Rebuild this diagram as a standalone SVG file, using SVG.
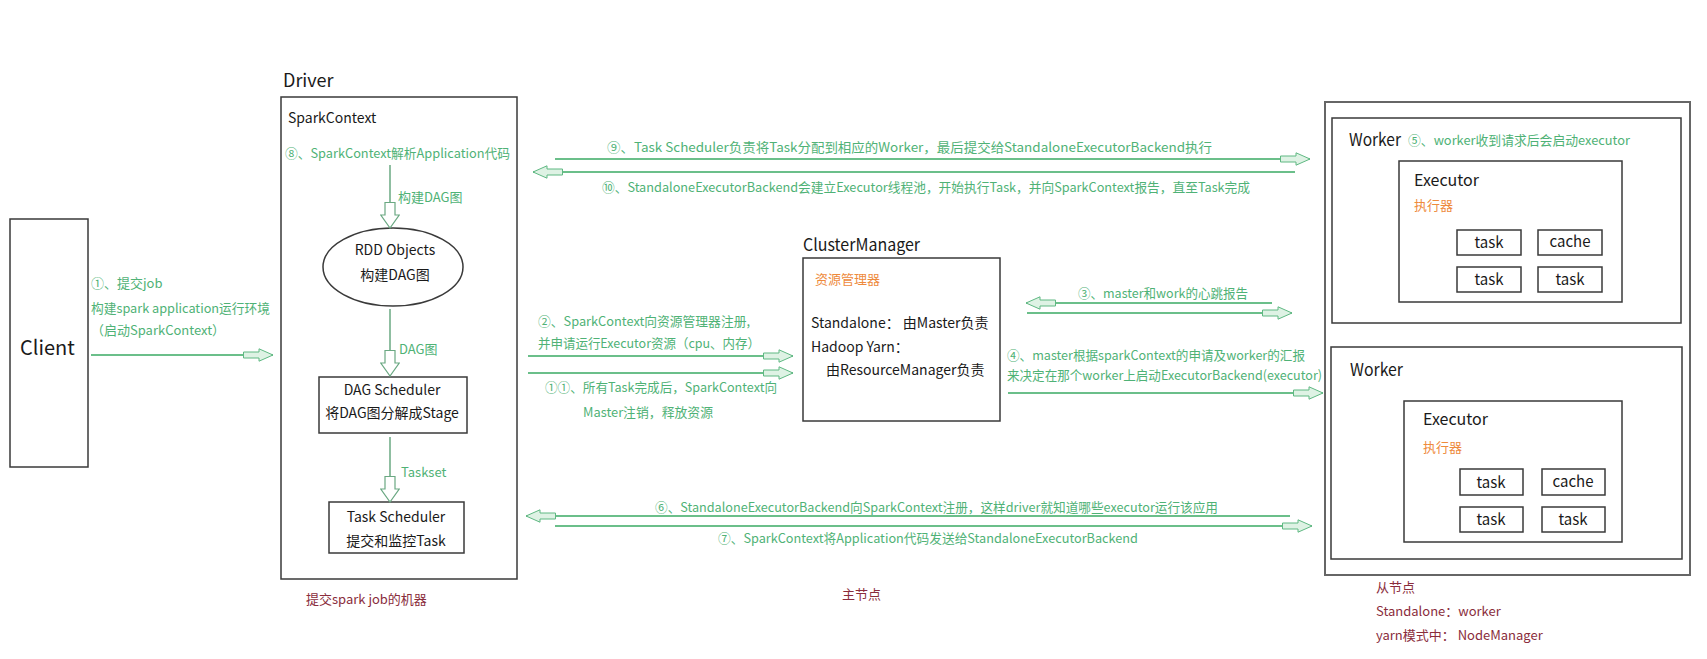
<svg xmlns="http://www.w3.org/2000/svg" width="1707" height="659" viewBox="0 0 1707 659">
<style>
text{font-family:"Noto Sans CJK SC","Liberation Sans",sans-serif;}
.box{fill:#fff;stroke:#3a3a3a;stroke-width:1.5;}
.obox{fill:#fff;stroke:#666;stroke-width:2;}
.t{fill:#1a1a1a;}
.g{fill:#4fb276;font-size:13px;}
.o{fill:#ee8a3c;font-size:13px;}
.r{fill:#8a2d3c;font-size:13px;}
.ln{stroke:#6bbf8a;stroke-width:2;fill:none;marker-end:url(#ah);}
.vl{stroke:#6aa882;stroke-width:1.5;fill:none;marker-end:url(#av);}
.c{text-anchor:middle;}
</style>
<defs>
<marker id="ah" viewBox="0 0 31 14" refX="30" refY="7" markerWidth="31" markerHeight="14" orient="auto" markerUnits="userSpaceOnUse">
<path d="M0.5,4 H16 V0.8 L30,7 L16,13.2 V10 H0.5 Z" fill="#def2e4" stroke="#5fb882" stroke-width="1"/>
</marker>
<marker id="av" viewBox="0 0 27 20" refX="26" refY="10" markerWidth="27" markerHeight="20" orient="auto" markerUnits="userSpaceOnUse">
<path d="M0.5,5 H13 V0.8 L26,10 L13,19.2 V15 H0.5 Z" fill="#fff" stroke="#6aa882" stroke-width="1.2"/>
</marker>
</defs>
<rect width="1707" height="659" fill="#fff"/>

<g id="client">
<rect class="box" x="10" y="219" width="78" height="248"/>
<text class="t" x="20" y="355" font-size="20">Client</text>
</g>

<g id="driver">
<text class="t" x="283" y="87" font-size="18">Driver</text>
<rect class="box" x="281" y="97" width="236" height="482"/>
<text class="t" x="288" y="123" font-size="14">SparkContext</text>
</g>

<g id="rdd-objects">
<ellipse class="box" cx="393" cy="267" rx="70" ry="39"/>
<text class="t c" x="395" y="255" font-size="14">RDD Objects</text>
<text class="t c" x="395" y="280" font-size="14">构建DAG图</text>
</g>

<g id="dag-scheduler">
<rect class="box" x="319" y="377" width="148" height="56"/>
<text class="t c" x="392" y="395" font-size="14">DAG Scheduler</text>
<text class="t c" x="392" y="418" font-size="14">将DAG图分解成Stage</text>
</g>

<g id="task-scheduler">
<rect class="box" x="329" y="502" width="135" height="51"/>
<text class="t c" x="396" y="522" font-size="14">Task Scheduler</text>
<text class="t c" x="396" y="546" font-size="14">提交和监控Task</text>
</g>

<g id="cluster-manager">
<text class="t" x="803" y="251" font-size="17" textLength="117" lengthAdjust="spacingAndGlyphs">ClusterManager</text>
<rect class="box" x="803" y="258" width="197" height="163"/>
<text class="o" x="815" y="284">资源管理器</text>
<text class="t" x="811" y="328" font-size="14">Standalone： 由Master负责</text>
<text class="t" x="811" y="352" font-size="14">Hadoop Yarn：</text>
<text class="t" x="826" y="375" font-size="14">由ResourceManager负责</text>
</g>

<g id="worker-nodes">
<rect class="obox" x="1325" y="102" width="365" height="473"/>
</g>

<g id="worker1">
<rect class="box" x="1332" y="118" width="349" height="205"/>
<text class="t" x="1349" y="146" font-size="17" textLength="52" lengthAdjust="spacingAndGlyphs">Worker</text>
<text class="g" x="1408" y="145" textLength="222" lengthAdjust="spacingAndGlyphs">⑤、worker收到请求后会启动executor</text>
</g>
<g id="executor1">
<rect class="box" x="1399" y="161" width="223" height="141"/>
<text class="t" x="1414" y="186" font-size="16">Executor</text>
<text class="o" x="1414" y="210">执行器</text>
</g>
<g id="task1a"><rect class="box" x="1457" y="230" width="64" height="25"/><text class="t c" x="1489" y="248" font-size="15">task</text></g>
<g id="cache1"><rect class="box" x="1538" y="230" width="64" height="25"/><text class="t c" x="1570" y="247" font-size="15">cache</text></g>
<g id="task1b"><rect class="box" x="1457" y="267" width="64" height="25"/><text class="t c" x="1489" y="285" font-size="15">task</text></g>
<g id="task1c"><rect class="box" x="1538" y="267" width="64" height="25"/><text class="t c" x="1570" y="285" font-size="15">task</text></g>

<g id="worker2">
<rect class="box" x="1331" y="347" width="351" height="212"/>
<text class="t" x="1350" y="376" font-size="17" textLength="53" lengthAdjust="spacingAndGlyphs">Worker</text>
</g>
<g id="executor2">
<rect class="box" x="1404" y="401" width="218" height="141"/>
<text class="t" x="1423" y="425" font-size="16">Executor</text>
<text class="o" x="1423" y="452">执行器</text>
</g>
<g id="task2a"><rect class="box" x="1460" y="469" width="63" height="26"/><text class="t c" x="1491" y="488" font-size="15">task</text></g>
<g id="cache2"><rect class="box" x="1542" y="469" width="63" height="26"/><text class="t c" x="1573" y="487" font-size="15">cache</text></g>
<g id="task2b"><rect class="box" x="1460" y="507" width="63" height="25"/><text class="t c" x="1491" y="525" font-size="15">task</text></g>
<g id="task2c"><rect class="box" x="1542" y="507" width="63" height="25"/><text class="t c" x="1573" y="525" font-size="15">task</text></g>

<g id="connectors">
<line class="ln" x1="91" y1="355" x2="273" y2="355"/>
<line class="vl" x1="390" y1="165" x2="390" y2="228"/>
<line class="vl" x1="390" y1="309" x2="390" y2="376"/>
<line class="vl" x1="390" y1="437" x2="390" y2="502"/>
<line class="ln" x1="555" y1="159" x2="1310" y2="159"/>
<line class="ln" x1="1295" y1="172" x2="533" y2="172"/>
<line class="ln" x1="528" y1="356" x2="793" y2="356"/>
<line class="ln" x1="528" y1="373" x2="793" y2="373"/>
<line class="ln" x1="1272" y1="303" x2="1026" y2="303"/>
<line class="ln" x1="1027" y1="313" x2="1292" y2="313"/>
<line class="ln" x1="1008" y1="393" x2="1323" y2="393"/>
<line class="ln" x1="1290" y1="516" x2="526" y2="516"/>
<line class="ln" x1="555" y1="526" x2="1312" y2="526"/>
</g>

<g id="labels">
<text class="g" x="91" y="288">①、提交job</text>
<text class="g" x="91" y="313" textLength="179" lengthAdjust="spacingAndGlyphs">构建spark application运行环境</text>
<text class="g" x="91" y="335">（启动SparkContext）</text>
<text class="g" x="285" y="158" textLength="225" lengthAdjust="spacingAndGlyphs">⑧、SparkContext解析Application代码</text>
<text class="g" x="398" y="202">构建DAG图</text>
<text class="g" x="399" y="354">DAG图</text>
<text class="g" x="401" y="477">Taskset</text>
<text class="g" x="607" y="152" textLength="605" lengthAdjust="spacingAndGlyphs">⑨、Task Scheduler负责将Task分配到相应的Worker，最后提交给StandaloneExecutorBackend执行</text>
<text class="g" x="602" y="192" textLength="648" lengthAdjust="spacingAndGlyphs">⑩、StandaloneExecutorBackend会建立Executor线程池，开始执行Task，并向SparkContext报告，直至Task完成</text>
<text class="g" x="538" y="326" textLength="212" lengthAdjust="spacingAndGlyphs">②、SparkContext向资源管理器注册,</text>
<text class="g" x="538" y="348" textLength="222" lengthAdjust="spacingAndGlyphs">并申请运行Executor资源（cpu、内存）</text>
<text class="g" x="545" y="392" textLength="232" lengthAdjust="spacingAndGlyphs">①①、所有Task完成后，SparkContext向</text>
<text class="g" x="583" y="417" textLength="130" lengthAdjust="spacingAndGlyphs">Master注销，释放资源</text>
<text class="g" x="1078" y="298" textLength="170" lengthAdjust="spacingAndGlyphs">③、master和work的心跳报告</text>
<text class="g" x="1007" y="360" textLength="298" lengthAdjust="spacingAndGlyphs">④、master根据sparkContext的申请及worker的汇报</text>
<text class="g" x="1007" y="380" textLength="315" lengthAdjust="spacingAndGlyphs">来决定在那个worker上启动ExecutorBackend(executor)</text>
<text class="g" x="655" y="512" textLength="563" lengthAdjust="spacingAndGlyphs">⑥、StandaloneExecutorBackend向SparkContext注册，这样driver就知道哪些executor运行该应用</text>
<text class="g" x="718" y="543" textLength="420" lengthAdjust="spacingAndGlyphs">⑦、SparkContext将Application代码发送给StandaloneExecutorBackend</text>
<text class="r" x="306" y="604">提交spark job的机器</text>
<text class="r" x="842" y="599">主节点</text>
<text class="r" x="1376" y="592">从节点</text>
<text class="r" x="1376" y="616">Standalone：worker</text>
<text class="r" x="1376" y="640">yarn模式中： NodeManager</text>
</g>
</svg>
